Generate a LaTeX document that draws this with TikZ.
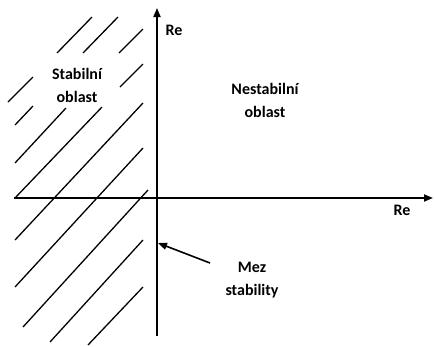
\documentclass[tikz,border=0pt]{standalone}
\usepackage{fontspec}
\setmainfont{Carlito}
\usetikzlibrary{arrows.meta}
\begin{document}
\begin{tikzpicture}[x=1pt,y=-1pt,
    axis/.style={line width=1.8pt, -{Triangle[length=9pt,width=7pt]}},
    hatch/.style={line width=1.3pt},
    pointer/.style={line width=1.6pt, -{Triangle[length=9pt,width=7pt]}},
    lbl/.style={font=\fontsize{16}{23}\selectfont\bfseries, align=center, inner sep=0pt}
]
\useasboundingbox (0,0) rectangle (434,346);

% axes
\coordinate (vlo) at (157,336);
\coordinate (vhi) at (157,8);
\coordinate (hlo) at (14,198);
\coordinate (hhi) at (433,198);
\draw[axis] (vlo) -- (vhi);
\draw[axis] (hlo) -- (hhi);
\node[lbl] (reV) at (174,30) {Re};
\node[lbl] (reH) at (402,210) {Re};

% hatching of the stable half-plane
\foreach \xa/\ya/\xb/\yb in {57/53/92/17, 83/53/118/17, 119/53/143/29,
    8/102/33/77, 120/87/143/64, 15/125/33/106, 15/163/66/108,
    15/198/102/107, 15/240/143/103, 15/287/143/148, 23/327/148/190,
    50/342/143/240, 88/345/143/287} {
  \draw[hatch] (\xa,\ya) -- (\xb,\yb);
}

% labels
\node[lbl] (stab) at (77,85) {Stabiln\'i\\oblast};
\node[lbl] (nestab) at (265,100) {Nestabiln\'i\\oblast};
\node[lbl] (mez) at (252,280) {Mez\\stability};

% pointer to the boundary
\coordinate (ptrS) at (210,263);
\coordinate (ptrT) at (158,243);
\draw[pointer] (ptrS) -- (ptrT);
\end{tikzpicture}
\end{document}
